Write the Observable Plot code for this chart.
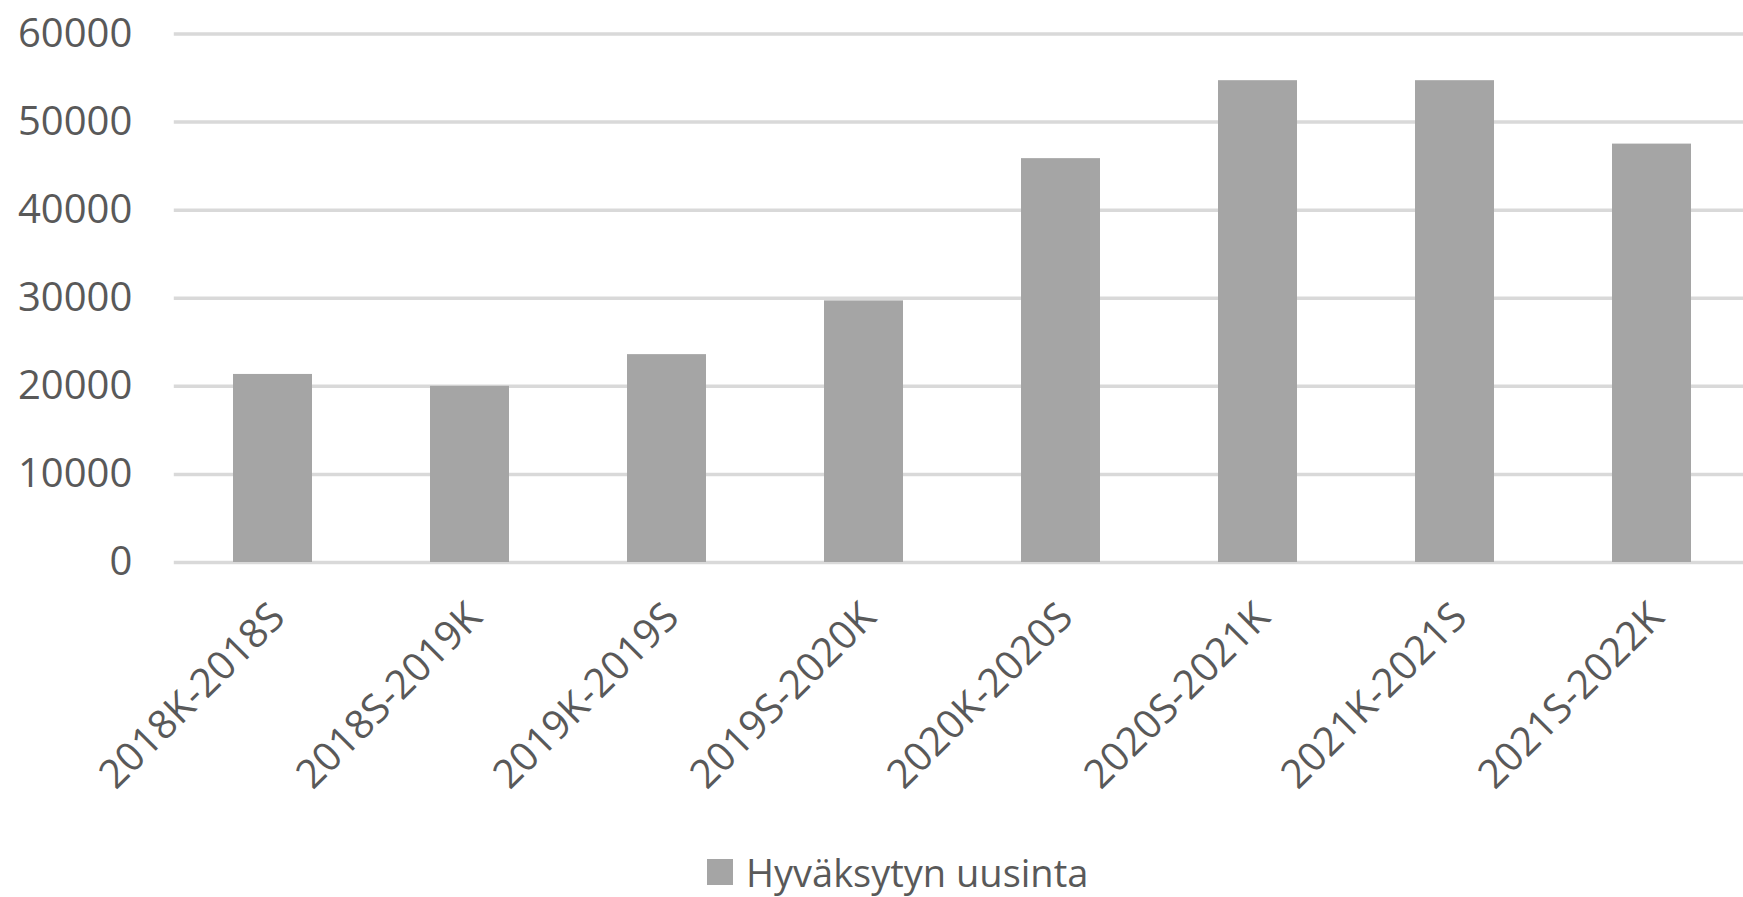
<!DOCTYPE html>
<html>
<head>
<meta charset="utf-8">
<script src="https://cdn.jsdelivr.net/npm/d3@7"></script>
<script src="https://cdn.jsdelivr.net/npm/@observablehq/plot@0.6"></script>
<style>
  html, body { margin: 0; padding: 0; background: #ffffff; }
  #wrap { position: relative; width: 1743px; height: 897px; overflow: hidden; }
  #legend { position: absolute; left: 707px; top: 853px; display: flex; align-items: center;
    font-family: "Open Sans", sans-serif; font-size: 38px; line-height: 38px; color: #595959; white-space: nowrap; }
  #legend .sw { display: inline-block; width: 26px; height: 26px; background: #a5a5a5; margin-right: 13px; }
</style>
</head>
<body>
<div id="wrap"><div id="chart"></div><div id="legend"><span class="sw"></span><span id="legtext"></span></div></div>
<script>
const categories = ["2018K-2018S", "2018S-2019K", "2019K-2019S", "2019S-2020K", "2020K-2020S", "2020S-2021K", "2021K-2021S", "2021S-2022K"];
const values = [21350, 20000, 23600, 29700, 45850, 54700, 54700, 47500];
const yTicks = [0, 10000, 20000, 30000, 40000, 50000, 60000];
const seriesName = "Hyväksytyn uusinta";

const data = categories.map((c, i) => ({cat: c, value: values[i]}));

const chart = Plot.plot({
  width: 1743,
  height: 840,
  marginLeft: 173.8,
  marginRight: 0,
  marginTop: 33.5,
  marginBottom: 278,
  style: {fontFamily: "'Open Sans', sans-serif", fontSize: "40px", color: "#595959", background: "#ffffff", overflow: "visible"},
  x: {domain: categories, range: [173.8, 1750.5], paddingInner: 0.6, paddingOuter: 0.3, axis: null},
  y: {domain: [0, 60000], ticks: yTicks, tickFormat: d => String(d), tickSize: 0, tickPadding: 42, label: null},
  marks: [
    Plot.ruleY(yTicks, {stroke: "#d9d9d9", strokeWidth: 3.5}),
    Plot.barY(data, {x: "cat", y: "value", fill: "#a5a5a5"}),
    Plot.text(categories, {x: d => d, frameAnchor: "bottom", dx: 14, dy: 57, rotate: -45, textAnchor: "end", lineAnchor: "bottom", fill: "#595959", fontSize: 40})
  ]
});
document.getElementById("chart").appendChild(chart);
document.getElementById("legtext").textContent = seriesName;
</script>
</body>
</html>
